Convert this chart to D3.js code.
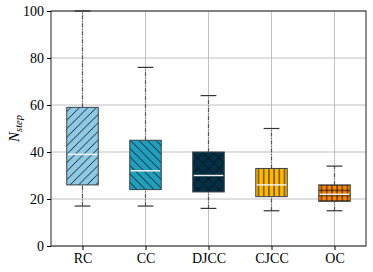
<!DOCTYPE html>
<html>
<head>
<meta charset="utf-8">
<script src="https://cdn.jsdelivr.net/npm/d3@7"></script>
<style>
  body { margin: 0; background: #fff; }
</style>
</head>
<body>
<svg id="chart"></svg>
<script>
// methods and their box statistics
const methods = ['RC', 'CC', 'DJCC', 'CJCC', 'OC'];
const whiskerLow = [17, 17, 16, 15, 15];
const q1 = [26, 24, 23, 21, 19];
const median = [39, 32, 30, 26, 22];
const q3 = [59, 45, 40, 33, 26];
const whiskerHigh = [100, 76, 64, 50, 34];
const colors = ['#8ecae6', '#219ebc', '#023047', '#ffb703', '#fb8500'];
const hatches = ['fwd', 'back', 'cross', 'vert', 'plus'];
const yTicks = [0, 20, 40, 60, 80, 100];

const FONT = '"Liberation Serif", "Times New Roman", serif';

const W = 373, H = 272;
const margin = { top: 11, right: 7, bottom: 26, left: 51 };
const width = W - margin.left - margin.right,
    height = H - margin.top - margin.bottom;

const svg = d3.select('#chart').attr('width', W).attr('height', H);

// hatch patterns
const defs = svg.append('defs');
function pattern(id, s, paths) {
    const p = defs.append('pattern')
        .attr('id', id)
        .attr('patternUnits', 'userSpaceOnUse')
        .attr('width', s).attr('height', s);
    paths.forEach(d => p.append('path').attr('d', d)
        .attr('stroke', '#111').attr('stroke-width', 0.9).attr('fill', 'none'));
}
const hs = 8.5;
pattern('fwd', hs, [`M0,${hs} L${hs},0`, `M${-hs/2},${hs/2} L${hs/2},${-hs/2}`, `M${hs/2},${hs*1.5} L${hs*1.5},${hs/2}`]);
pattern('back', hs, [`M0,0 L${hs},${hs}`, `M${-hs/2},${hs/2} L${hs/2},${hs*1.5}`, `M${hs/2},${-hs/2} L${hs*1.5},${hs/2}`]);
const cs = 10.5;
pattern('cross', cs, [`M0,${cs} L${cs},0`, `M0,0 L${cs},${cs}`]);
const vs = 5.2;
pattern('vert', vs, [`M${vs/2},0 V${vs}`]);
pattern('plus', vs, [`M${vs/2},0 V${vs}`, `M0,${vs/2} H${vs}`]);

const g = svg.append('g').attr('transform', `translate(${margin.left},${margin.top})`);

const x = d3.scaleLinear().domain([0.5, methods.length + 0.5]).range([0, width]);
const y = d3.scaleLinear().domain([0, 100]).range([height, 0]);
const boxW = x(1.25) - x(0.75);
const capW = boxW / 2;

// grid
g.append('g').selectAll('line').data(yTicks).join('line')
    .attr('x1', 0).attr('x2', width)
    .attr('y1', d => y(d)).attr('y2', d => y(d))
    .attr('stroke', '#b0b0b0').attr('stroke-width', 0.8);
g.append('g').selectAll('line').data(methods).join('line')
    .attr('x1', (d, i) => x(i + 1)).attr('x2', (d, i) => x(i + 1))
    .attr('y1', 0).attr('y2', height)
    .attr('stroke', '#b0b0b0').attr('stroke-width', 0.8);

const data = methods.map((m, i) => ({
    m, i, lo: whiskerLow[i], q1: q1[i], med: median[i], q3: q3[i], hi: whiskerHigh[i]
}));

const boxes = g.append('g').selectAll('g').data(data).join('g')
    .attr('transform', d => `translate(${x(d.i + 1)},0)`);

// whiskers
boxes.append('line').attr('y1', d => y(d.lo)).attr('y2', d => y(d.q1))
    .attr('stroke', '#555').attr('stroke-width', 1.2).attr('stroke-dasharray', '4,1.5,1,1.5');
boxes.append('line').attr('y1', d => y(d.q3)).attr('y2', d => y(d.hi))
    .attr('stroke', '#555').attr('stroke-width', 1.2).attr('stroke-dasharray', '4,1.5,1,1.5');
// caps
boxes.append('line').attr('x1', -capW / 2).attr('x2', capW / 2)
    .attr('y1', d => y(d.lo)).attr('y2', d => y(d.lo))
    .attr('stroke', '#333').attr('stroke-width', 1.2);
boxes.append('line').attr('x1', -capW / 2).attr('x2', capW / 2)
    .attr('y1', d => y(d.hi)).attr('y2', d => y(d.hi))
    .attr('stroke', '#333').attr('stroke-width', 1.2);

// box body
boxes.append('rect')
    .attr('x', -boxW / 2).attr('width', boxW)
    .attr('y', d => y(d.q3)).attr('height', d => y(d.q1) - y(d.q3))
    .attr('fill', d => colors[d.i]);
boxes.append('rect')
    .attr('x', -boxW / 2).attr('width', boxW)
    .attr('y', d => y(d.q3)).attr('height', d => y(d.q1) - y(d.q3))
    .attr('fill', d => `url(#${hatches[d.i]})`)
    .attr('stroke', '#3a4449').attr('stroke-width', 1);

// median
boxes.append('line').attr('x1', -boxW / 2 + 1).attr('x2', boxW / 2 - 1)
    .attr('y1', d => y(d.med)).attr('y2', d => y(d.med))
    .attr('stroke', '#f2f2f2').attr('stroke-width', 1.5);

// spines
g.append('rect').attr('width', width).attr('height', height)
    .attr('fill', 'none').attr('stroke', '#222').attr('stroke-width', 1);

// axes
const yAxis = d3.axisLeft(y).tickValues(yTicks).tickSize(4).tickPadding(3);
const ya = g.append('g').call(yAxis).attr('font-family', FONT).attr('font-size', 14);
ya.select('.domain').remove();
ya.selectAll('text').attr('fill', '#000');

const xAxis = d3.axisBottom(x).tickValues(d3.range(1, methods.length + 1))
    .tickFormat(d => methods[d - 1]).tickSize(4).tickPadding(3);
const xa = g.append('g').attr('transform', `translate(0,${height})`).call(xAxis)
    .attr('font-family', FONT).attr('font-size', 14);
xa.select('.domain').remove();
xa.selectAll('text').attr('fill', '#000');

// y label
const yl = svg.append('text')
    .attr('transform', `translate(19,${margin.top + height / 2}) rotate(-90)`)
    .attr('text-anchor', 'middle')
    .attr('font-family', FONT)
    .attr('font-size', 15);
yl.append('tspan').attr('font-style', 'italic').text('N');
yl.append('tspan').attr('font-style', 'italic').attr('font-size', 10.5).attr('dy', 3).text('step');
</script>
</body>
</html>
